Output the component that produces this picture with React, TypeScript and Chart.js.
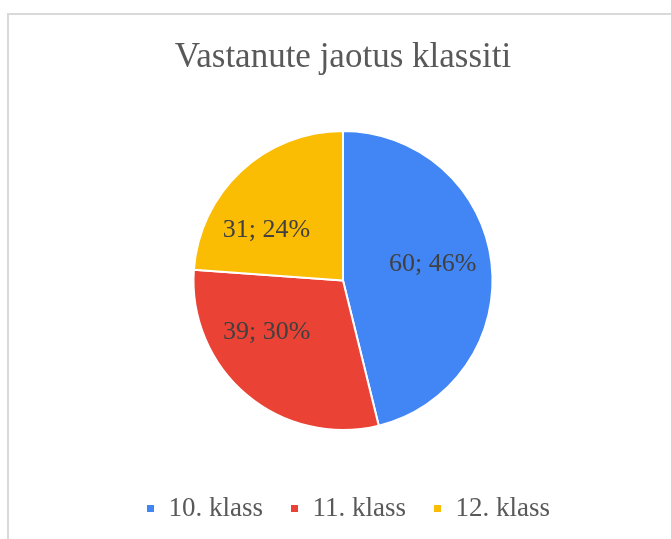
import React, { useEffect, useRef } from "react";
import { Chart, registerables } from "chart.js";

Chart.register(...registerables);

const categories = ["10. klass", "11. klass", "12. klass"];
const counts = [60, 39, 31];
const percentLabels = ["46%", "30%", "24%"];
const sliceColors = ["#4285F4", "#EA4335", "#FBBC04"];
const titleText = "Vastanute jaotus klassiti";

// label placement (polar offsets relative to each slice's middle angle)
const labelAngleShiftDeg = [-3.6, 16, -13.9];
const labelRadiusFrac = [0.61, 0.615, 0.612];

const FONT = "'Liberation Serif', 'Times New Roman', serif";
const LEGEND_GAP = 37;
const LEGEND_SHIFT_X = 5;

const sliceLabelPlugin = {
  id: "sliceLabels",
  afterLayout(chart: any) {
    const area = chart.chartArea;
    area.bottom = chart.legend.top - LEGEND_GAP;
    area.height = area.bottom - area.top;
    chart.legend.left += LEGEND_SHIFT_X;
    chart.legend.right += LEGEND_SHIFT_X;
  },
  afterDatasetsDraw(chart: any) {
    const meta = chart.getDatasetMeta(0);
    const ctx = chart.ctx;
    ctx.save();
    ctx.font = `26px ${FONT}`;
    ctx.fillStyle = "#404040";
    ctx.textAlign = "center";
    ctx.textBaseline = "middle";
    meta.data.forEach((arc: any, i: number) => {
      const p = arc.getProps(["x", "y", "startAngle", "endAngle", "outerRadius"], true);
      const mid = (p.startAngle + p.endAngle) / 2 + (labelAngleShiftDeg[i] * Math.PI) / 180;
      const r = p.outerRadius * labelRadiusFrac[i];
      const x = p.x + Math.cos(mid) * r;
      const y = p.y + Math.sin(mid) * r;
      ctx.fillText(`${counts[i]}; ${percentLabels[i]}`, x, y);
    });
    ctx.restore();
  },
};

export default function App() {
  const canvasRef = useRef<HTMLCanvasElement | null>(null);

  useEffect(() => {
    if (!canvasRef.current) return;
    const chart = new Chart(canvasRef.current, {
      type: "pie",
      data: {
        labels: categories,
        datasets: [
          {
            data: counts,
            backgroundColor: sliceColors,
            borderColor: "#ffffff",
            borderWidth: 2,
          },
        ],
      },
      options: {
        animation: false,
        responsive: false,
        maintainAspectRatio: false,
        layout: { padding: { left: 15, right: 0, top: 0, bottom: 7 } },
        plugins: {
          title: {
            display: true,
            text: titleText,
            color: "#595959",
            font: { family: FONT, size: 35, weight: "normal" },
            padding: { top: 37, bottom: 51 },
          },
          legend: {
            display: true,
            position: "bottom",
            labels: {
              color: "#595959",
              font: { family: FONT, size: 27 },
              boxWidth: 9,
              boxHeight: 9,
              padding: 27,
            },
          },
          tooltip: { enabled: false },
        },
      },
      plugins: [sliceLabelPlugin],
    });
    return () => chart.destroy();
  }, []);

  return (
    <div
      style={{
        position: "fixed",
        left: 0,
        top: 0,
        width: 671,
        height: 539,
        overflow: "hidden",
        background: "#ffffff",
      }}
    >
      <div
        style={{
          position: "absolute",
          left: 7,
          top: 13,
          width: 700,
          height: 580,
          border: "2px solid #d9d9d9",
          boxSizing: "border-box",
        }}
      />
      <canvas
        ref={canvasRef}
        width={671}
        height={539}
        style={{ position: "absolute", left: 0, top: 0, width: 671, height: 539 }}
      />
    </div>
  );
}
